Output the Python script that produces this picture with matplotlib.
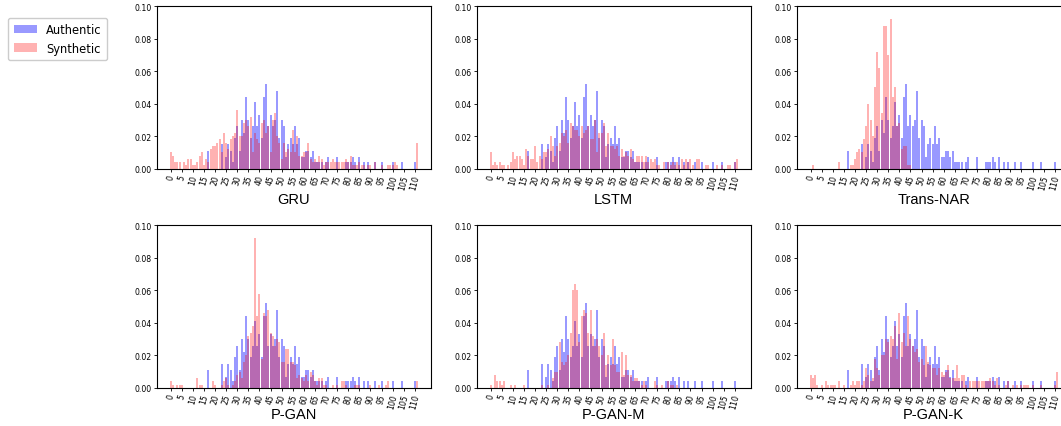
import numpy as np
import matplotlib
matplotlib.use("Agg")
import matplotlib.pyplot as plt

# bin positions 0..111, frequencies
positions = list(range(112))

authentic = [
    0, 0, 0, 0, 0, 0, 0, 0, 0, 0,
    0, 0, 0, 0, 0, 0, 0, .011, 0, 0,
    0, 0, 0, .015, 0, .007, .015, .011, .004, .019,
    .026, .011, .030, .022, .044, .030, .019, .026, .041, .026,
    .033, .019, .044, .052, .026, .033, .026, .030, .048, .019,
    .030, .026, .007, .015, .019, .015, .026, .015, .019, .007,
    .007, .011, .011, .007, .011, .004, .004, .004, .004, 0,
    .004, .007, 0, 0, 0, .007, 0, 0, 0, .004,
    .004, .004, .007, .004, 0, .007, 0, .004, 0, .004,
    0, 0, .004, 0, 0, .004, 0, 0, 0, 0,
    .004, 0, 0, 0, .004, 0, 0, 0, 0, 0,
    .004, 0,
]

gru = [
    .010, .008, .004, .004, .004, 0, .004, .002, .006, .006,
    .002, .002, .004, .008, .010, .002, .006, .004, .012, .014,
    .014, .016, .018, .010, .022, .016, .012, .018, .020, .022,
    .036, .020, .020, .028, .030, .026, .032, .010, .022, .018,
    .016, .028, .030, .022, .026, .010, .030, .034, .020, .016,
    .006, .016, .010, .012, .010, .024, .010, .020, .008, .008,
    .010, .010, .016, .006, .004, .006, .004, .008, .006, .002,
    .004, .004, .004, .006, .004, .004, .004, .004, .004, .006,
    .004, .008, .002, .002, .002, .004, .002, .002, 0, .002,
    .002, 0, .004, 0, 0, .002, 0, 0, .002, .002,
    .002, .004, .002, 0, 0, 0, 0, 0, 0, 0,
    0, .016,
]

lstm = [
    .010, .002, .004, .002, .004, .002, .002, 0, .002, .004,
    .010, .006, .008, .008, .006, .002, .012, .008, .006, .006,
    .014, .004, .008, .006, .010, .010, .012, .020, .014, .008,
    .014, .016, .022, .020, .024, .016, .028, .026, .024, .024,
    .020, .026, .022, .024, .026, .018, .018, .030, .010, .022,
    .022, .028, .014, .022, .014, .014, .012, .014, .008, .012,
    .008, .010, .008, .012, .006, .004, .008, .008, .008, .004,
    .008, .004, .006, .004, .006, .002, .002, 0, .004, 0,
    .004, .002, .004, .002, .004, .002, .006, .002, .006, .004,
    .006, .002, 0, .006, .006, 0, 0, .002, .002, 0,
    0, 0, .002, 0, .002, 0, 0, .002, .002, 0,
    .004, .006,
]

trans_nar = [
    0, .002, 0, 0, 0, 0, 0, 0, 0, 0,
    0, 0, 0, .004, 0, 0, 0, 0, .002, .002,
    .006, .010, .012, .010, .018, .026, .040, .030, .020, .050,
    .072, .062, .034, .088, .088, .070, .092, .044, .050, .026,
    .028, .012, .014, .014, .002, .002, 0, 0, 0, 0,
    0, 0, 0, 0, 0, 0, 0, 0, 0, 0,
    0, 0, 0, 0, 0, 0, 0, 0, 0, 0,
    0, 0, 0, 0, 0, 0, 0, 0, 0, 0,
    0, 0, 0, 0, 0, 0, 0, 0, 0, 0,
    0, 0, 0, 0, 0, 0, 0, 0, 0, 0,
    0, 0, 0, 0, 0, 0, 0, 0, 0, 0,
    0, 0,
]

p_gan = [
    .004, .002, 0, .002, .002, .002, 0, 0, 0, 0,
    0, 0, .006, .002, .002, 0, 0, 0, 0, .004,
    .002, 0, 0, .002, .004, .006, .002, 0, .002, .004,
    .008, .010, .006, .016, .020, .032, .034, .038, .092, .044,
    .058, .018, .046, .044, .048, .034, .032, .026, .030, .028,
    .016, .016, .024, .024, .016, .016, .014, .006, .008, .006,
    .004, .008, .004, .010, .008, .004, .002, .006, .006, .002,
    .002, 0, 0, .002, 0, .002, 0, .004, .004, .002,
    0, 0, 0, .002, .002, .002, 0, 0, 0, 0,
    .002, 0, 0, 0, .002, 0, 0, .002, .004, 0,
    0, 0, 0, 0, 0, 0, 0, 0, 0, 0,
    0, .004,
]

p_gan_m = [
    .002, 0, .008, .004, .004, .002, .004, 0, 0, .002,
    0, .002, 0, 0, 0, .002, 0, 0, 0, 0,
    0, 0, 0, .002, 0, 0, .002, 0, .006, .010,
    .010, .028, .016, .014, .016, .020, .034, .060, .064, .060,
    .028, .044, .048, .046, .034, .048, .032, .026, .030, .026,
    .020, .034, .014, .020, .014, .030, .014, .010, .010, .022,
    .008, .020, .008, .008, .004, .006, .006, .004, .002, .004,
    .002, 0, 0, 0, .004, .002, 0, .002, 0, 0,
    .004, .002, .002, 0, .002, 0, 0, 0, 0, 0,
    0, 0, 0, 0, 0, 0, 0, 0, 0, 0,
    0, 0, 0, 0, 0, 0, 0, 0, 0, 0,
    0, 0,
]

p_gan_k = [
    .008, .006, .008, .002, 0, .002, 0, .004, .002, .002,
    .002, .002, 0, .004, 0, .002, 0, 0, .002, .004,
    .002, .004, .004, .002, .004, .012, .008, .004, .006, .018,
    .012, .008, .020, .020, .030, .028, .032, .030, .038, .018,
    .046, .028, .034, .026, .044, .030, .026, .022, .024, .016,
    .018, .014, .026, .016, .014, .012, .012, .008, .012, .010,
    .008, .010, .014, .006, .006, .006, .014, .006, .008, .008,
    .002, 0, .004, .004, .004, .004, .004, .004, .004, .004,
    .004, .006, .004, .002, .006, .002, 0, 0, .002, .004,
    0, .002, 0, .002, 0, .002, .002, .002, .002, 0,
    .002, 0, 0, 0, .002, 0, 0, 0, 0, 0,
    .002, .010,
]

model_names = ["GRU", "LSTM", "Trans-NAR", "P-GAN", "P-GAN-M", "P-GAN-K"]
synthetic = [gru, lstm, trans_nar, p_gan, p_gan_m, p_gan_k]
tick_values = list(range(0, 111, 5))
y_values = [0, 0.02, 0.04, 0.06, 0.08, 0.10]

fig = plt.figure(figsize=(10.61, 4.27), dpi=100)

lefts = [0.1477, 0.4493, 0.7508]
bottoms = [0.6026, 0.0890]
w, h = 0.2582, 0.3810

for i, (name, synth) in enumerate(zip(model_names, synthetic)):
    ax = fig.add_axes([lefts[i % 3], bottoms[i // 3], w, h])
    auth = np.array(authentic)
    syn = np.array(synth)
    pos = np.array(positions)
    ax.bar(pos[auth > 0], auth[auth > 0], width=0.9, color="blue", alpha=0.4,
           label="Authentic")
    ax.bar(pos[syn > 0], syn[syn > 0], width=0.9, color="red", alpha=0.3,
           label="Synthetic")
    ax.set_xlim(-6.3, 117.1)
    ax.set_ylim(0, 0.10)
    ax.set_yticks(y_values)
    ax.set_yticklabels(["%.2f" % v for v in y_values])
    ax.set_xticks(tick_values)
    ax.set_xticklabels([str(t) for t in tick_values], rotation=75)
    ax.tick_params(labelsize=5.6, length=2, width=0.6, pad=1.5)
    for s in ax.spines.values():
        s.set_linewidth(0.8)
    ax.set_xlabel(name, fontsize=10.5, family="Liberation Sans",
                  labelpad=1 if i < 3 else -1.5)

handles, labels = fig.axes[0].get_legend_handles_labels()
fig.legend(handles, labels, loc="upper left", bbox_to_anchor=(0.002, 0.97),
           fontsize=8.3, handlelength=2.0, borderpad=0.5, labelspacing=0.45,
           framealpha=1, edgecolor="#cccccc")

fig.savefig("out.png", dpi=100)
